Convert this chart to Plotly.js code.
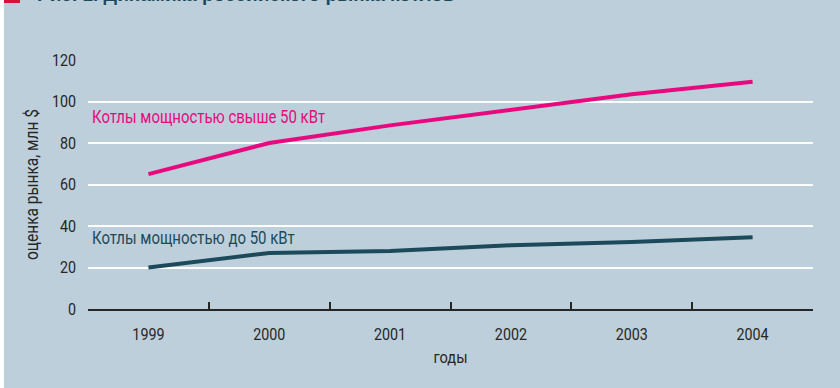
<!DOCTYPE html>
<html>
<head>
<meta charset="utf-8">
<script src="https://cdn.plot.ly/plotly-3.0.1.min.js"></script>
<style>
  html, body { margin: 0; padding: 0; background: #ffffff; }
  #chart { width: 840px; height: 388px; }
</style>
</head>
<body>
<div id="chart"></div>
<script>
// Годы и оценка рынка котлов, млн $
const years = ['1999', '2000', '2001', '2002', '2003', '2004'];
const over50kW = [65, 80, 88.5, 96, 103.5, 109.5];
const upTo50kW = [20, 27, 28, 30.7, 32.3, 34.6];
const yTicks = [0, 20, 40, 60, 80, 100, 120];

const labelOver = 'Котлы мощностью свыше 50 кВт';
const labelUpTo = 'Котлы мощностью до 50 кВт';
const chartTitle = 'Рис. 1. Динамика российского рынка котлов';

const BG = '#bdcfdb';
const PINK = '#e8097f';
const TEAL = '#1c4a5b';
const INK = '#262626';
const FONT = 'Roboto, "Liberation Sans", sans-serif';

const traces = [
  {
    x: years, y: over50kW, type: 'scatter', mode: 'lines',
    line: { color: PINK, width: 4 }, hoverinfo: 'skip', showlegend: false
  },
  {
    x: years, y: upTo50kW, type: 'scatter', mode: 'lines',
    line: { color: TEAL, width: 4 }, hoverinfo: 'skip', showlegend: false
  }
];

const layout = {
  width: 840, height: 388,
  margin: { l: 88, r: 27, t: 60, b: 79, pad: 0 },
  paper_bgcolor: BG,
  plot_bgcolor: BG,
  font: { family: FONT, size: 16, color: INK },
  showlegend: false,
  xaxis: {
    type: 'category',
    range: [-0.5, 5.5],
    tickson: 'boundaries',
    ticks: 'inside', ticklen: 7, tickwidth: 2, tickcolor: INK,
    showgrid: false,
    showline: true, linecolor: INK, linewidth: 2,
    zeroline: false,
    tickfont: { family: FONT, size: 17, color: INK },
    ticklabelstandoff: 9,
    title: { text: 'годы', font: { family: FONT, size: 17, color: INK }, standoff: 8 },
    fixedrange: true
  },
  yaxis: {
    range: [0, 120],
    tickvals: yTicks,
    ticktext: yTicks.map(String),
    ticks: '', showline: false, zeroline: false,
    showgrid: true, gridcolor: '#ffffff', gridwidth: 2,
    tickfont: { family: FONT, size: 17, color: INK },
    ticklabelstandoff: 11,
    title: { text: 'оценка рынка, млн $', font: { family: FONT, size: 18, color: INK }, standoff: 4 },
    fixedrange: true
  },
  shapes: [
    // белая полоса по левому краю
    { type: 'rect', xref: 'paper', yref: 'paper', x0: -88 / 725, x1: -84 / 725, y0: -79 / 249, y1: 309 / 249,
      fillcolor: '#ffffff', line: { width: 0 }, layer: 'below' },
    // красная метка у заголовка
    { type: 'rect', xref: 'paper', yref: 'paper', x0: -84 / 725, x1: -68 / 725, y0: 306 / 249, y1: 312 / 249,
      fillcolor: '#d2143a', line: { width: 0 }, layer: 'above' }
  ],
  annotations: [
    { x: 0, y: 93, xref: 'x', yref: 'y', xanchor: 'left', yanchor: 'middle', xshift: -58, align: 'left',
      text: labelOver, showarrow: false, font: { family: FONT, size: 18, color: PINK } },
    { x: 0, y: 34.5, xref: 'x', yref: 'y', xanchor: 'left', yanchor: 'middle', xshift: -58, align: 'left',
      text: labelUpTo, showarrow: false, font: { family: FONT, size: 18, color: TEAL } },
    { x: -53 / 725, y: 302 / 249, xref: 'paper', yref: 'paper', xanchor: 'left', yanchor: 'bottom',
      text: '<b>' + chartTitle + '</b>', showarrow: false,
      font: { family: '"Liberation Sans", Arial, sans-serif', size: 19, color: '#1c4a5b' } }
  ]
};

// Узкое начертание: сжимаем подписи по горизонтали
function condense(root, selector, ratio) {
  root.querySelectorAll(selector).forEach(function (el) {
    const len = el.getComputedTextLength();
    if (len > 0) {
      el.setAttribute('textLength', (len * ratio).toFixed(2));
      el.setAttribute('lengthAdjust', 'spacingAndGlyphs');
    }
  });
}

Plotly.newPlot('chart', traces, layout, { displayModeBar: false, staticPlot: true }).then(function (gd) {
  condense(gd, '.xtick text, .ytick text', 0.84);
  condense(gd, '.xtitle, .ytitle', 0.86);
  const ann = gd.querySelectorAll('.annotation-text');
  for (let i = 0; i < 2 && i < ann.length; i++) {
    const len = ann[i].getComputedTextLength();
    ann[i].setAttribute('textLength', (len * 0.83).toFixed(2));
    ann[i].setAttribute('lengthAdjust', 'spacingAndGlyphs');
  }
});
</script>
</body>
</html>
